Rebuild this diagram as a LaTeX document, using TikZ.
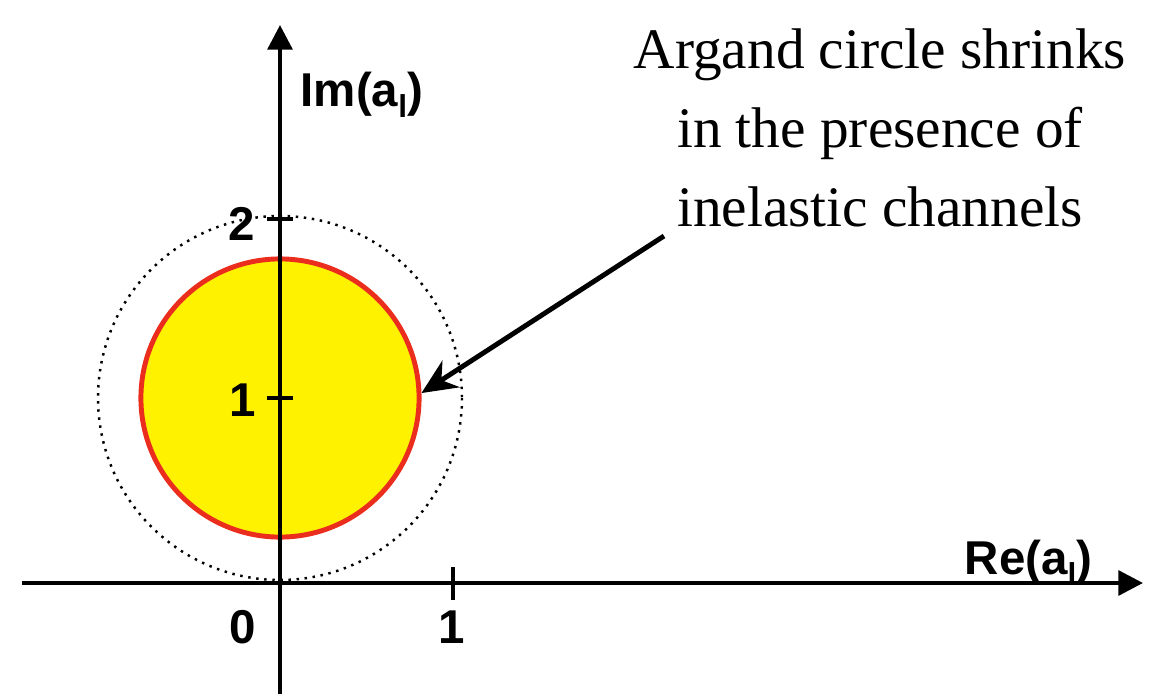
\documentclass[tikz,border=0pt]{standalone}
\usepackage{fontspec}
\setmainfont{Liberation Serif}
\newfontfamily\lblfont{Liberation Sans}
\usetikzlibrary{arrows.meta,positioning}
\definecolor{circred}{RGB}{235,45,30}
\newcommand{\lsub}{\raisebox{-0.45ex}{\fontsize{9}{9}\selectfont l}}

\begin{document}
\begin{tikzpicture}[x=0.01cm, y=-0.01cm,
    axis/.style={line width=1.2pt, -{Triangle[length=7pt, width=7pt]}},
    tck/.style={line width=1.2pt},
    num/.style={font=\lblfont\bfseries\fontsize{13.5}{16}\selectfont, inner sep=0pt},
    arr/.style={line width=1.4pt, -{Stealth[length=10pt, width=9pt]}},
    note/.style={font=\fontsize{16.3}{22.5}\selectfont, align=center, inner sep=0pt}
]
\useasboundingbox (0,0) rectangle (1160,694);

% circles
\draw[line width=0.7pt, dash pattern=on 0.7pt off 1.6pt] (280,398) circle[radius=182];
\node[circle, draw=circred, fill=yellow, line width=1.4pt, minimum size=2.78cm, inner sep=0pt] (argand) at (280,398) {};

% axes
\coordinate (xstart) at (22,583);
\coordinate (xend) at (1143,583);
\coordinate (ystart) at (280,694);
\coordinate (yend) at (280,25);
\draw[axis] (xstart) -- (xend);
\draw[axis] (ystart) -- (yend);
\foreach \yy in {219,398}
  \draw[tck] (267,\yy) -- (293,\yy);
\draw[tck] (453,567) -- (453,600);

% labels
\node[num, anchor=west] (imlbl) at (300,95) {Im(a\lsub)};
\node[num, anchor=east] (relbl) at (1093,563) {Re(a\lsub)};
\node[num] (two) at (242,224) {2};
\node[num] (one) at (243,400) {1};
\node[num] (zero) at (243,627) {0};
\node[num] (reone) at (452,627) {1};

% annotation
\node[note] (shrink) at (880,128) {Argand circle shrinks\\in the presence of\\inelastic channels};
\coordinate (tail) at (664,236);
\draw[arr] (tail) -- (argand.2);
\end{tikzpicture}
\end{document}
